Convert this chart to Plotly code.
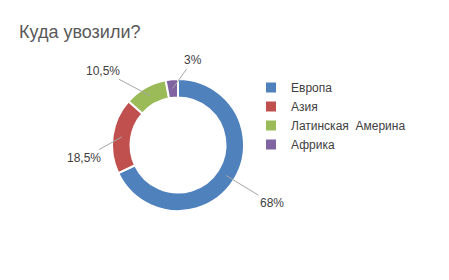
import math
import plotly.graph_objects as go

labels = ["Европа", "Азия", "Латинская  Америна", "Африка"]
values = [68, 18.5, 10.5, 3]
text_labels = ["68%", "18,5%", "10,5%", "3%"]
colors = ["#4F81BD", "#C0504D", "#9BBB59", "#8064A2"]

W, H = 449, 280
cx, cy, R, hole = 178, 145, 66, 0.72

fig = go.Figure(go.Pie(
    labels=labels, values=values, sort=False, direction="clockwise", rotation=0,
    hole=hole, marker=dict(colors=colors, line=dict(color="white", width=2)),
    textinfo="none", hoverinfo="label+percent",
    domain=dict(x=[(cx - R) / W, (cx + R) / W], y=[1 - (cy + R) / H, 1 - (cy - R) / H]),
))

# label offsets (pixels) from ring midpoint
offsets = [(46, 28), (-38, 21), (-47, -25), (20, -28)]
total = sum(values)
cum = 0
rmid = R * (1 + hole) / 2
for v, t, (ox, oy) in zip(values, text_labels, offsets):
    mid = (cum + v / 2) / total * 2 * math.pi
    cum += v
    px = cx + rmid * math.sin(mid)
    py = cy - rmid * math.cos(mid)
    fig.add_annotation(
        x=px / W, y=1 - py / H, xref="paper", yref="paper",
        ax=ox, ay=oy, axref="pixel", ayref="pixel",
        text=t, showarrow=True, arrowhead=0, arrowwidth=1, arrowcolor="#A6A6A6",
        font=dict(family="Liberation Sans, Arial", size=12, color="#404040"),
        standoff=0, startstandoff=0,
    )

fig.update_layout(
    width=W, height=H, margin=dict(l=0, r=0, t=0, b=0),
    paper_bgcolor="white", plot_bgcolor="white",
    title=dict(text="Куда увозили?", x=19 / W, xanchor="left", y=1 - 32 / H, yanchor="middle",
               font=dict(family="Liberation Sans, Arial", size=18, color="#595959")),
    showlegend=True,
    legend=dict(x=251 / W, y=1 - 73 / H, xanchor="left", yanchor="top",
                font=dict(family="Liberation Sans, Arial", size=12, color="#404040"),
                bgcolor="rgba(0,0,0,0)"),
)

fig.write_html("out.html")
